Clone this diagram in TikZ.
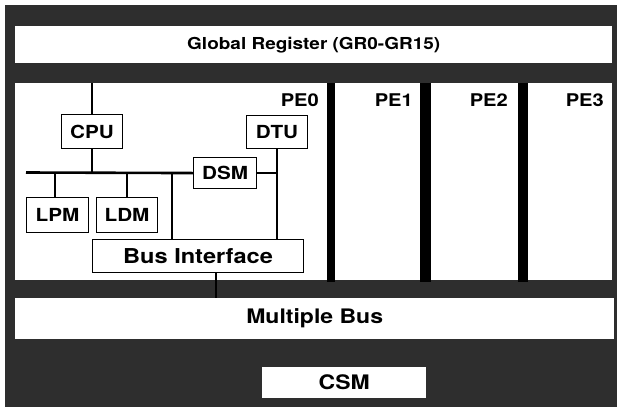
\documentclass[tikz,border=0pt]{standalone}
\usepackage{fontspec}
\newfontfamily\hv[FakeStretch=1.15]{TeX Gyre Heros}
\usetikzlibrary{calc}
\definecolor{halftone}{HTML}{2E2E2E}
\tikzset{
  panel/.style={fill=white, draw=none, inner sep=0pt, anchor=north west, font=\hv\bfseries\fontsize{16.5}{20}\selectfont},
  unit/.style={fill=white, draw=black, line width=1.1pt, inner sep=0pt, anchor=north west, font=\hv\bfseries\fontsize{18}{21}\selectfont},
  pelabel/.style={inner sep=0pt, anchor=east, font=\hv\bfseries\fontsize{17.5}{20}\selectfont},
  wire/.style={draw=black, line width=2.6pt}
}
\begin{document}
\begin{tikzpicture}[x=1pt,y=-1pt]
\useasboundingbox (0,0) rectangle (617,407);
% dark halftone background
\fill[halftone] (5,5) rectangle (617,407);
% darker separators between the PEs
\fill[black] (327,83) rectangle (335,282);
\fill[black] (420,83) rectangle (431,282);
\fill[black] (518,83) rectangle (528,282);
% panels
\node[panel, minimum width=597pt, minimum height=37pt] (gr) at (15,26) {Global Register (GR0-GR15)};
\node[panel, minimum width=312pt, minimum height=197pt] (pe0) at (15,83) {};
\node[panel, minimum width=85pt, minimum height=197pt] (pe1) at (335,83) {};
\node[panel, minimum width=87pt, minimum height=197pt] (pe2) at (431,83) {};
\node[panel, minimum width=84pt, minimum height=197pt] (pe3) at (528,83) {};
\node[panel, minimum width=599pt, minimum height=41pt, font=\hv\bfseries\fontsize{20}{23}\selectfont] (mb) at (15,298) {Multiple Bus};
\node[panel, minimum width=164pt, minimum height=31pt, font=\hv\bfseries\fontsize{20}{23}\selectfont] (csm) at (262,367) {CSM};
% PE labels
\node[pelabel] (l0) at (319,100) {PE0};
\node[pelabel] (l1) at (413,100) {PE1};
\node[pelabel] (l2) at (508,100) {PE2};
\node[pelabel] (l3) at (604,100) {PE3};
% units inside PE0
\node[unit, minimum width=61pt, minimum height=34pt] (cpu) at (61,114) {CPU};
\node[unit, minimum width=61pt, minimum height=33pt] (dtu) at (246,115) {DTU};
\node[unit, minimum width=63pt, minimum height=31pt] (dsm) at (193,157) {DSM};
\node[unit, minimum width=62pt, minimum height=35pt] (lpm) at (26,197) {LPM};
\node[unit, minimum width=61pt, minimum height=35pt] (ldm) at (96,197) {LDM};
\node[unit, minimum width=211pt, minimum height=33pt, font=\hv\bfseries\fontsize{20.5}{23}\selectfont] (bi) at (92,239) {Bus Interface};
% junction points
\coordinate (busL) at (26,172.5);
\coordinate (j1) at (172,172.5);
\coordinate (j0) at (55,172.5);
\coordinate (bo) at (216,272);
% wires
\draw[wire] (cpu.north) -- (cpu.north |- pe0.north);
\draw[wire] (busL) -- (dsm.west);
\draw[wire] (cpu.south) -- (cpu.south |- busL);
\draw[wire] (j0) -- (j0 |- lpm.north);
\draw[wire] (ldm.north) -- (ldm.north |- busL);
\draw[wire] (j1) -- (j1 |- bi.north);
\draw[wire] (dtu.south) -- (dtu.south |- bi.north);
\draw[wire] (dsm.east) -- (dsm.east -| dtu.south);
\draw[wire] (bo) -- (bo |- mb.north);
\end{tikzpicture}
\end{document}
